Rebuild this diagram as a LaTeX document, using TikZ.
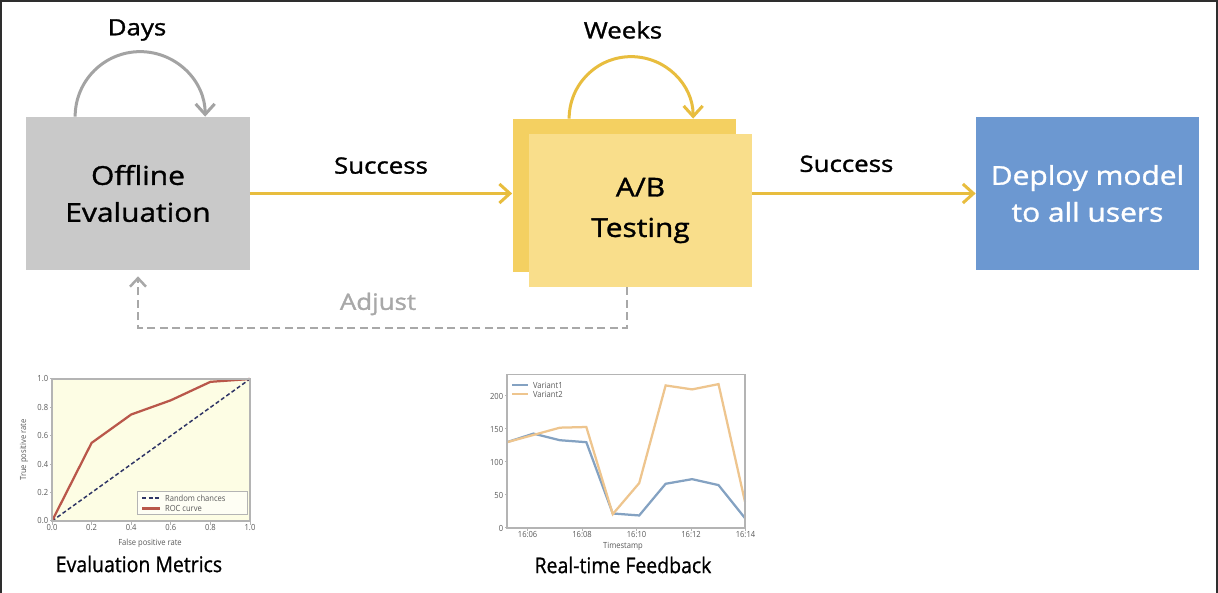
\documentclass[tikz,border=0pt]{standalone}
\usepackage{fontspec}
\setmainfont{Open Sans}[FakeStretch=1.15,FakeBold=1.3]
\newfontfamily\capfont{Open Sans}[FakeStretch=0.9,FakeBold=0.8]
\newfontfamily\tickfont{Open Sans}[FakeStretch=0.9]
\usetikzlibrary{arrows.meta,calc,positioning}
\definecolor{boxgray}{HTML}{C9C9C9}
\definecolor{loopgray}{HTML}{A3A3A3}
\definecolor{gold}{HTML}{E8BD3E}
\definecolor{abback}{HTML}{F4D061}
\definecolor{abfront}{HTML}{F9DE8B}
\definecolor{deployblue}{HTML}{6C98D1}
\definecolor{dashgray}{HTML}{A8A8A8}
\definecolor{roccol}{HTML}{B9574A}
\definecolor{randcol}{HTML}{2F3566}
\definecolor{plotfill}{HTML}{FDFDE4}
\definecolor{varone}{HTML}{84A2C2}
\definecolor{vartwo}{HTML}{EEC58E}
\definecolor{axisgray}{HTML}{B4B4B4}
\definecolor{framecol}{HTML}{2E2E2E}
\begin{document}
\begin{tikzpicture}[x=0.2mm, y=-0.2mm,
    box/.style={minimum width=44.6mm, minimum height=30.6mm, inner sep=0pt,
      align=center, font=\fontsize{14.8}{21}\selectfont},
    lbl/.style={font=\fontsize{12.8}{15}\selectfont},
    flow/.style={gold, line width=0.6mm, -{Straight Barb[length=2.1mm,width=3.8mm]}},
    loopline/.style={line width=0.6mm, -{Straight Barb[length=2.1mm,width=3.8mm]}},
    adjustline/.style={dashgray, line width=0.5mm, dash pattern=on 1.6mm off 0.9mm,
      -{Straight Barb[length=1.7mm,width=3.2mm]}},
    tick/.style={font=\tickfont\fontsize{4.8}{5}\selectfont, text=black!65, inner sep=1pt},
    caption/.style={font=\capfont\fontsize{12.3}{14}\selectfont}]
  \useasboundingbox (0,0) rectangle (1218,593);
  \fill[white] (0,0) rectangle (1218,593);
  \draw[framecol, line width=0.4mm] (1,593) -- (1,1) -- (1217,1) -- (1217,593);

  \node[box, fill=boxgray] (offline) at (138,193.5) {Offline\\Evaluation};
  \node[box, fill=abback] (abb) at (624,195.5) {};
  \node[box, fill=abfront, font=\fontsize{14.8}{23}\selectfont] (ab) at (640.5,210.5) {A/B\\Testing};
  \node[box, fill=deployblue, text=white] (deploy) at (1087.5,193.5) {Deploy model\\to all users};

  \node[lbl] (days) at (137,30) {Days};
  \node[lbl] (weeks) at (623,30) {Weeks};
  \draw[loopline, loopgray] ($(offline.north west)+(49,0)$) arc[start angle=180, end angle=360, radius=65];
  \draw[loopline, gold] ($(abb.north west)+(57,0)$) arc[start angle=180, end angle=360, radius=62];

  \draw[flow] (offline.east) -- (offline.east -| abb.west)
    node[lbl, midway, above=7pt, text=black] (succ1) {Success};
  \draw[flow] (ab.east |- deploy.west) -- (deploy.west)
    node[lbl, midway, above=8pt, xshift=-10pt, text=black] (succ2) {Success};

  \coordinate (adj) at (627,328);
  \draw[adjustline, shorten >=1.2mm] (ab.south -| adj) -- (adj) -| (offline.south);
  \node[lbl, text=dashgray] (adjust) at (378,304) {Adjust};

  \begin{scope}[shift={(52,521)}, xscale=198, yscale=-142]
    \fill[plotfill] (0,0) rectangle (1,1);
    \draw[randcol, line width=0.3mm, dash pattern=on 0.8mm off 0.5mm] (0,0) -- (1,1);
    \draw[roccol, line width=0.45mm] (0,0) -- (0.2,0.55) -- (0.4,0.75) -- (0.6,0.85) -- (0.8,0.98) -- (1,1);
    \draw[axisgray, line width=0.25mm] (0,0) rectangle (1,1);
    \foreach \t [count=\i] in {0.0,0.2,0.4,0.6,0.8,1.0} {
      \draw[axisgray, line width=0.2mm] (\t,0) -- ++(0,-0.025);
      \node[tick, below=1pt] (rx\i) at (\t,0) {\t};
      \draw[axisgray, line width=0.2mm] (0,\t) -- ++(-0.012,0);
      \node[tick, left=1pt] (ry\i) at (0,\t) {\t};
    }
  \end{scope}
  \node[tick] (rxlab) at (150,543) {False positive rate};
  \node[tick, rotate=90] (rylab) at (24,450) {True positive rate};
  \draw[axisgray, line width=0.2mm, fill=white!60!plotfill] (137,492) rectangle (247,515);
  \draw[randcol, line width=0.3mm, dash pattern=on 0.8mm off 0.5mm] (142,498) -- (160,498);
  \draw[roccol, line width=0.45mm] (142,508.5) -- (160,508.5);
  \node[tick, right] (rleg1) at (163,498) {Random chances};
  \node[tick, right] (rleg2) at (163,508.5) {ROC curve};
  \node[caption] (evalcap) at (139,564) {Evaluation Metrics};

  \begin{scope}[shift={(507,528)}, xscale=26.44, yscale=-0.66]
    \draw[varone, line width=0.45mm] (0,130) -- (1,143) -- (2,133) -- (3,130) -- (4,22)
      -- (5,19) -- (6,67) -- (7,74) -- (8,65) -- (9,15);
    \draw[vartwo, line width=0.45mm] (0,130) -- (1,141) -- (2,152) -- (3,153) -- (4,21)
      -- (5,68) -- (6,216) -- (7,210) -- (8,218) -- (9,40);
    \draw[axisgray, line width=0.25mm] (0,0) rectangle (9,233);
    \foreach \v [count=\i] in {0,50,100,150,200} {
      \draw[axisgray, line width=0.2mm] (0,\v) -- ++(-0.09,0);
      \node[tick, left=1pt] (fy\i) at (0,\v) {\v};
    }
    \foreach \p/\t [count=\i] in {0.78/16:06,2.84/16:08,4.9/16:10,6.96/16:12,9.02/16:14} {
      \draw[axisgray, line width=0.2mm] (\p,0) -- ++(0,-4);
      \node[tick, below=1pt] (fx\i) at (\p,0) {\t};
    }
  \end{scope}
  \node[tick] (fxlab) at (623,546) {Timestamp};
  \draw[varone, line width=0.45mm] (512,385) -- (528,385);
  \draw[vartwo, line width=0.45mm] (512,394) -- (528,394);
  \node[tick, right] (fleg1) at (531,385) {Variant1};
  \node[tick, right] (fleg2) at (531,394) {Variant2};
  \node[caption] (feedcap) at (623,565) {Real-time Feedback};
\end{tikzpicture}
\end{document}
